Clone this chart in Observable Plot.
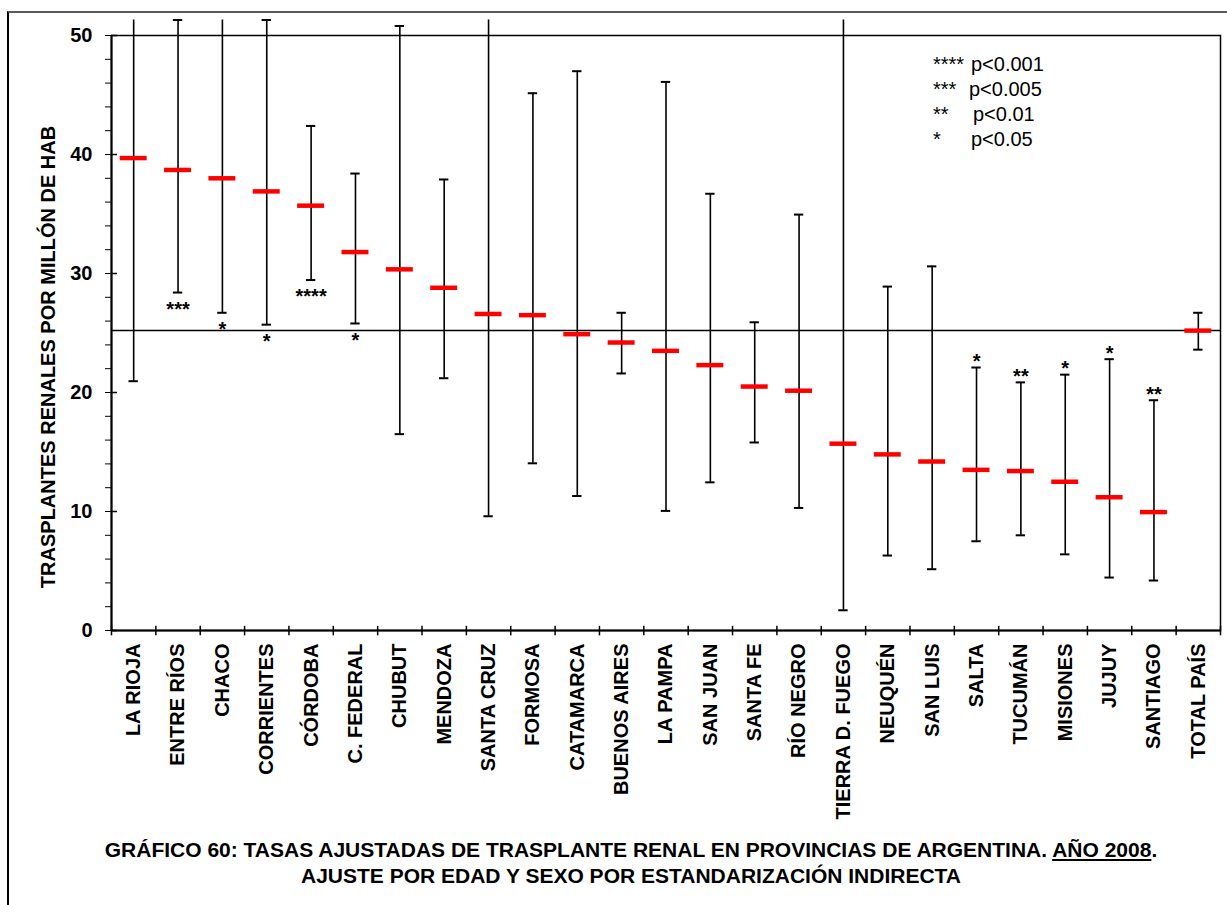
<!DOCTYPE html>
<html><head><meta charset="utf-8">
<script src="https://cdn.jsdelivr.net/npm/d3@7"></script>
<script src="https://cdn.jsdelivr.net/npm/@observablehq/plot@0.6"></script>
<style>
body{margin:0;background:#fff;font-family:"Liberation Sans",Arial,sans-serif;color:#000;}
#wrap{position:relative;width:1227px;height:905px;overflow:hidden;}
#border{position:absolute;left:7px;top:11px;width:1240px;height:910px;border-top:2px solid #5a5a5a;border-left:2px solid #000;}
#chart{position:absolute;left:0;top:0;}
#ylab{position:absolute;left:48px;top:357px;transform:translate(-50%,-50%) rotate(-90deg);white-space:nowrap;font-weight:bold;font-size:20px;line-height:23px;}
#legend{position:absolute;left:933px;top:52px;font-size:20px;line-height:25px;}
#legend .row{position:relative;height:25px;width:200px;}
#legend span{position:absolute;top:0;}
#title{position:absolute;left:0;width:1262px;top:837px;text-align:center;font-weight:bold;font-size:21px;line-height:26px;white-space:nowrap;}
</style></head>
<body>
<div id="wrap">
<div id="border"></div>
<div id="chart"></div>
<div id="ylab">TRASPLANTES RENALES POR MILLÓN DE HAB</div>
<div id="legend">
 <div class="row"><span style="left:0">****</span><span style="left:38px">p&lt;0.001</span></div>
 <div class="row"><span style="left:0">***</span><span style="left:36px">p&lt;0.005</span></div>
 <div class="row"><span style="left:0">**</span><span style="left:40px">p&lt;0.01</span></div>
 <div class="row"><span style="left:0">*</span><span style="left:38px">p&lt;0.05</span></div>
</div>
<div id="title">GRÁFICO 60: TASAS AJUSTADAS DE TRASPLANTE RENAL EN PROVINCIAS DE ARGENTINA. <u>AÑO 2008</u>.<br>AJUSTE POR EDAD Y SEXO POR ESTANDARIZACIÓN INDIRECTA</div>
</div>
<script>
const categories = ["LA RIOJA","ENTRE RÍOS","CHACO","CORRIENTES","CÓRDOBA","C. FEDERAL","CHUBUT","MENDOZA","SANTA CRUZ","FORMOSA","CATAMARCA","BUENOS AIRES","LA PAMPA","SAN JUAN","SANTA FE","RÍO NEGRO","TIERRA D. FUEGO","NEUQUÉN","SAN LUIS","SALTA","TUCUMÁN","MISIONES","JUJUY","SANTIAGO","TOTAL PAÍS"];
const rates = [39.7,38.7,38.0,36.9,35.7,31.8,30.35,28.8,26.6,26.5,24.9,24.2,23.5,22.3,20.5,20.15,15.7,14.8,14.2,13.5,13.4,12.5,11.2,9.95,25.2];
const lower = [20.95,28.4,26.7,25.7,29.45,25.8,16.5,21.2,9.6,14.05,11.3,21.6,10.05,12.45,15.8,10.3,1.7,6.3,5.15,7.5,8.0,6.4,4.45,4.2,23.6];
const upper = [51.3,51.3,51.3,51.3,42.4,38.4,50.8,37.9,51.3,45.15,47.0,26.7,46.1,36.7,25.9,34.95,51.3,28.9,30.6,22.1,20.85,21.5,22.8,19.35,26.7];
// upper limits that run off the top of the chart (drawn without a cap)
const offScale = ["LA RIOJA","CHACO","SANTA CRUZ","TIERRA D. FUEGO"];
const significance = ["","***","*","*","****","*","","","","","","","","","","","","","","*","**","*","*","**",""];
const yTicks = [0,2,4,6,8,10,12,14,16,18,20,22,24,26,28,30,32,34,36,38,40,42,44,46,48,50];
const yMajor = [0,10,20,30,40,50];

const rows = categories.map((name, i) => ({name, rate: rates[i], lo: lower[i], hi: upper[i], sig: significance[i]}));
const total = rows[rows.length - 1].rate;

const W = 1227, mL = 111, mR = 7;
const bw = (W - mL - mR) / categories.length;

const chart = Plot.plot({
  width: W, height: 830,
  marginLeft: mL, marginRight: mR, marginTop: 35, marginBottom: 200,
  style: {fontFamily: "Liberation Sans, Arial, sans-serif", fontSize: "20px", fontWeight: "bold", color: "#000", background: "transparent", overflow: "visible"},
  x: {domain: categories, padding: 0, round: false, tickSize: 0, tickPadding: 13, tickRotate: -90, label: null},
  y: {domain: [0, 50], ticks: yTicks, tickSize: 6, tickPadding: 13, tickFormat: d => d % 10 === 0 ? d : "", label: null},
  marks: [
    Plot.frame({stroke: "#000", strokeWidth: 1.5}),
    Plot.ruleY([0], {stroke: "#000", strokeWidth: 2}),
    Plot.ruleX([categories[0]], {stroke: "#000", strokeWidth: 2, dx: -bw / 2}),
    Plot.tickY(yMajor, {x: () => categories[0], y: d => d, stroke: "#000", strokeWidth: 1.5, insetLeft: 0, insetRight: bw - 6}),
    Plot.ruleX(categories, {x: d => d, y1: -0.45, y2: 0.35, dx: -bw / 2, stroke: "#000", strokeWidth: 1.5}),
    Plot.ruleX([categories[categories.length - 1]], {y1: -0.45, y2: 0.35, dx: bw / 2, stroke: "#000", strokeWidth: 1.5}),
    Plot.ruleY([total], {stroke: "#000", strokeWidth: 1.5}),
    Plot.ruleX(rows, {x: "name", y1: "lo", y2: "hi", stroke: "#000", strokeWidth: 1.6}),
    Plot.tickY(rows, {x: "name", y: "lo", stroke: "#000", strokeWidth: 2, inset: 17.5}),
    Plot.tickY(rows.filter(d => !offScale.includes(d.name)), {x: "name", y: "hi", stroke: "#000", strokeWidth: 2, inset: 17.5}),
    Plot.tickY(rows, {x: "name", y: "rate", stroke: "#ff0000", strokeWidth: 4.5, inset: 8.7}),
    Plot.text(rows.filter(d => d.sig && d.rate > total), {x: "name", y: "lo", text: "sig", dy: 17, fontSize: 20, fontWeight: "bold", fill: "#000"}),
    Plot.text(rows.filter(d => d.sig && d.rate < total), {x: "name", y: "hi", text: "sig", dy: -6, fontSize: 20, fontWeight: "bold", fill: "#000"})
  ]
});
document.getElementById("chart").appendChild(chart);
</script>
</body></html>
